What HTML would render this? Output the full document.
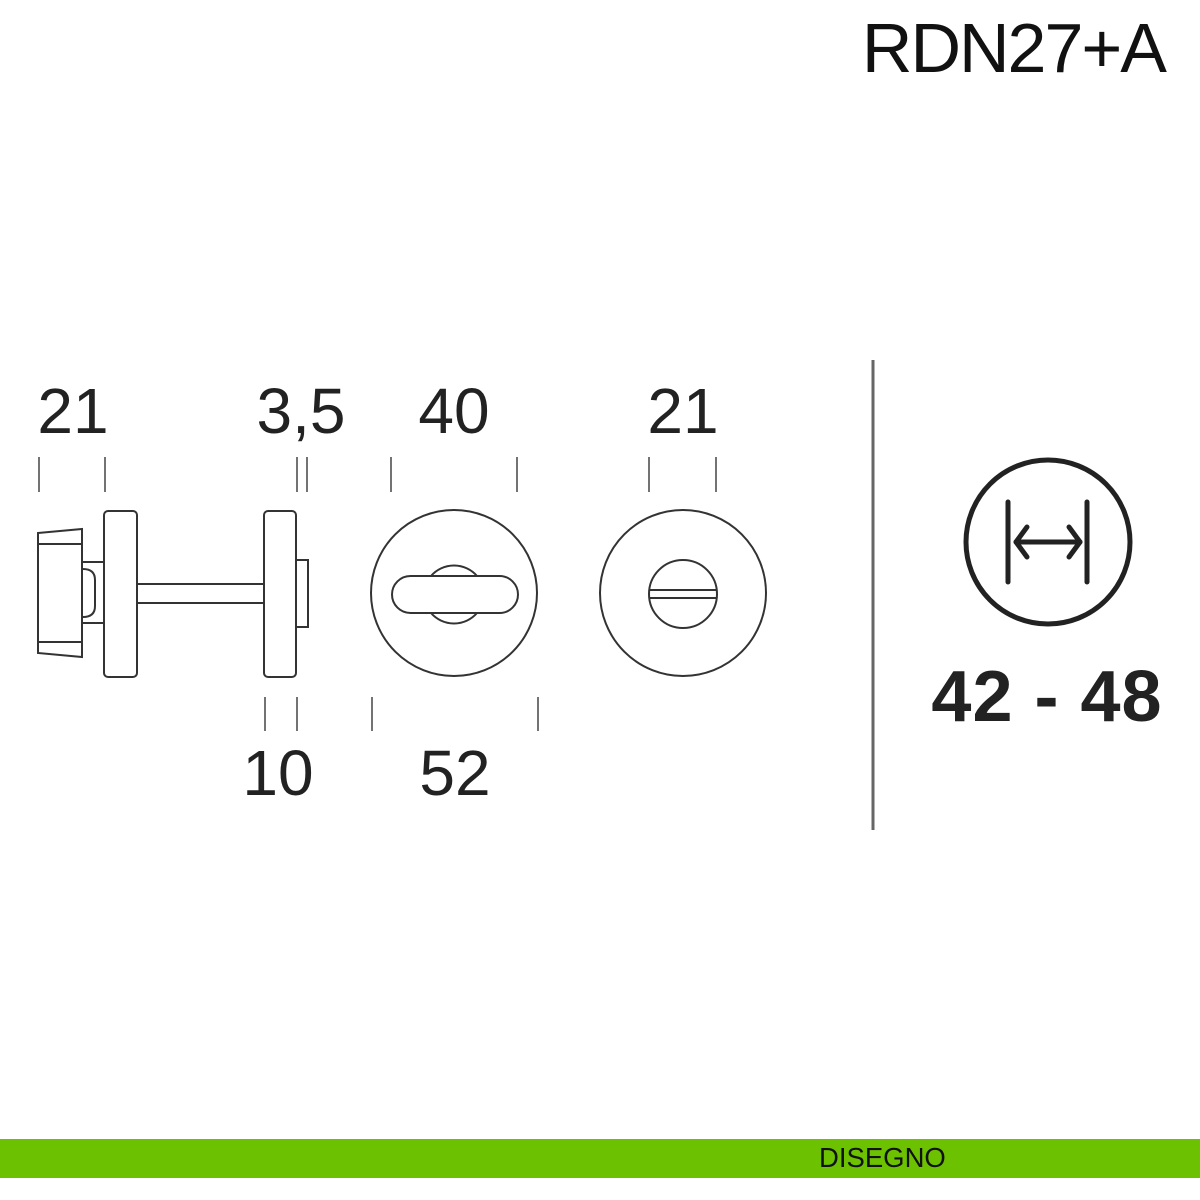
<!DOCTYPE html>
<html><head><meta charset="utf-8"><style>
html,body{margin:0;padding:0;background:#fff;width:1200px;height:1200px;overflow:hidden}
</style></head><body>
<svg width="1200" height="1200" viewBox="0 0 1200 1200" xmlns="http://www.w3.org/2000/svg" style="display:block">
<g font-family="Liberation Sans, sans-serif" fill="#222">
<text x="1165" y="72" font-size="70" text-anchor="end" letter-spacing="-2" fill="#111">RDN27+A</text>
<text x="73" y="433" font-size="64" text-anchor="middle">21</text>
<text x="301" y="433" font-size="64" text-anchor="middle">3,5</text>
<text x="454" y="433" font-size="64" text-anchor="middle">40</text>
<text x="683" y="433" font-size="64" text-anchor="middle">21</text>
<text x="278" y="795" font-size="64" text-anchor="middle">10</text>
<text x="455" y="795" font-size="64" text-anchor="middle">52</text>
<text x="1047" y="721" font-size="72" font-weight="bold" text-anchor="middle" letter-spacing="1">42 - 48</text>
</g>
<g stroke="#444" stroke-width="1.5">
<line x1="39" y1="457" x2="39" y2="492"/><line x1="105" y1="457" x2="105" y2="492"/>
<line x1="297" y1="457" x2="297" y2="492"/><line x1="307" y1="457" x2="307" y2="492"/>
<line x1="391" y1="457" x2="391" y2="492"/><line x1="517" y1="457" x2="517" y2="492"/>
<line x1="649" y1="457" x2="649" y2="492"/><line x1="716" y1="457" x2="716" y2="492"/>
<line x1="265" y1="697" x2="265" y2="731"/><line x1="297" y1="697" x2="297" y2="731"/>
<line x1="372" y1="697" x2="372" y2="731"/><line x1="538" y1="697" x2="538" y2="731"/>
</g>
<g fill="none" stroke="#333" stroke-width="2">
<path d="M38 533 L82 529 L82 657 L38 653 Z"/>
<line x1="38" y1="544" x2="82" y2="544"/><line x1="38" y1="642" x2="82" y2="642"/>
<path d="M82 562 L104 562 M82 623 L104 623"/>
<path d="M83 569 Q95 569 95 580 L95 606 Q95 617 83 617"/>
<rect x="104" y="511" width="33" height="166" rx="4"/>
<rect x="137" y="584" width="127" height="19"/>
<rect x="264" y="511" width="32" height="166" rx="4"/>
<rect x="296" y="560" width="12" height="67"/>
<circle cx="454" cy="593" r="83"/>
<path d="M431 576 A30.5 30.5 0 0 1 477 576 M431 613 A30.5 30.5 0 0 0 477 613" />
<rect x="392" y="576" width="126" height="37" rx="18.5" fill="#fff"/>
<circle cx="683" cy="593" r="83"/>
<circle cx="683" cy="594" r="34"/>
<line x1="649" y1="590" x2="717" y2="590"/><line x1="649" y1="598" x2="717" y2="598"/>
</g>
<line x1="873" y1="360" x2="873" y2="830" stroke="#666" stroke-width="3"/>
<g fill="none" stroke="#222" stroke-width="5" stroke-linecap="round" stroke-linejoin="round">
<circle cx="1048" cy="542" r="82"/>
<line x1="1008" y1="502" x2="1008" y2="582"/><line x1="1087" y1="502" x2="1087" y2="582"/>
<line x1="1016" y1="542" x2="1080" y2="542"/>
<path d="M1027 527 L1016 542 L1027 557"/><path d="M1069 527 L1080 542 L1069 557"/>
</g>
<rect x="0" y="1139" width="1200" height="39" fill="#6cc200"/>
<text x="819" y="1167" font-family="Liberation Sans, sans-serif" font-size="27.5" fill="#111">DISEGNO</text>
</svg>
</body></html>
